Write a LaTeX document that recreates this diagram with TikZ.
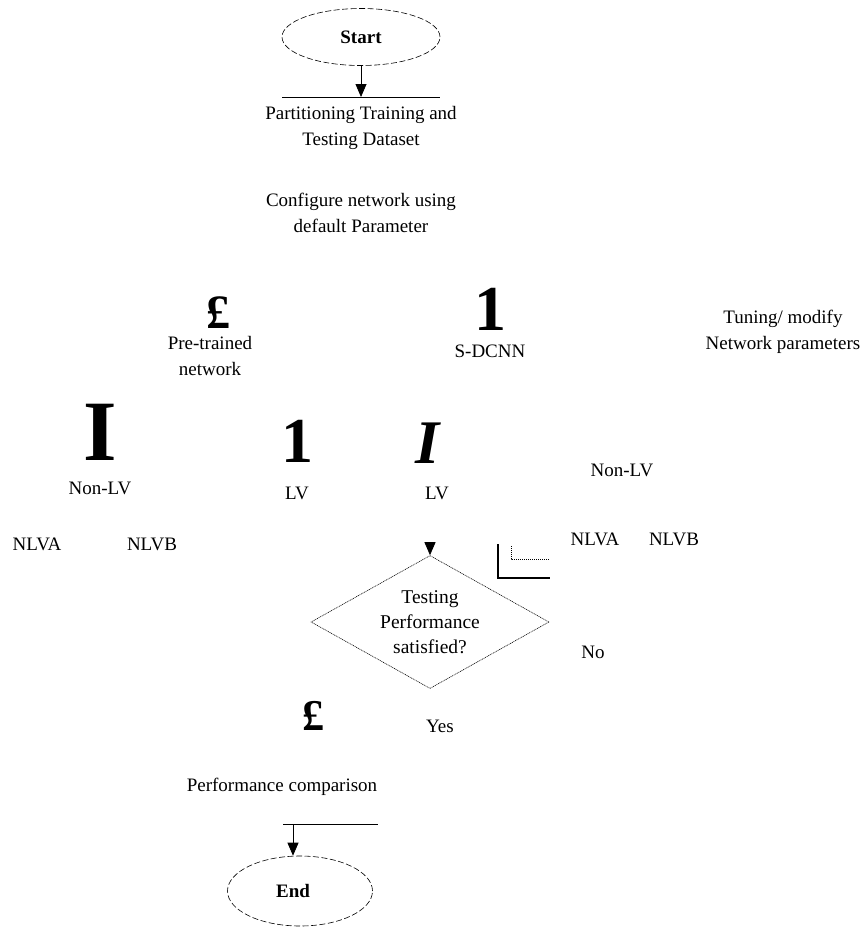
\documentclass[tikz,border=0pt]{standalone}
\usepackage{fontspec}
\setmainfont{Liberation Serif}
\usetikzlibrary{arrows.meta,shapes.geometric}
\tikzset{
  txt/.style={font=\fontsize{19}{26}\selectfont, align=center, inner sep=0pt},
  terminal/.style={ellipse, draw, dash pattern=on 6pt off 2.5pt, line width=0.6pt,
    font=\fontsize{19}{22}\selectfont\bfseries, inner sep=0pt},
  decision/.style={diamond, draw, dash pattern=on 1pt off 0.8pt, line width=0.6pt,
    inner sep=0pt},
  dectext/.style={font=\fontsize{19.5}{25}\selectfont, align=center, inner sep=0pt},
  bigsym/.style={inner sep=0pt, text depth=0pt, font=\bfseries},
  flow/.style={line width=0.8pt, -{Triangle[length=13pt,width=11pt]}},
  bar/.style={line width=0.8pt}
}
\begin{document}
\begin{tikzpicture}[x=1pt, y=-1pt]
\useasboundingbox (0,0) rectangle (866,927);

% start terminal and first step
\node[terminal, minimum width=158pt, minimum height=57pt] (start) at (361,37) {Start};
\coordinate (s1) at (361,97);
\draw[bar] (282,97) coordinate (b1l) -- (440,97) coordinate (b1r);
\draw[flow] (start.south) -- (s1);
\node[txt] (part) at (361,128) {Partitioning Training and\\Testing Dataset};
\node[txt] (conf) at (361,213) {Configure network using\\default Parameter};

% network choice
\node[bigsym, font=\fontsize{48}{48}\selectfont\bfseries] (pound1) at (218,313) {£};
\node[txt] (pre) at (210,356) {Pre-trained\\network};
\node[bigsym, font=\fontsize{64}{64}\selectfont\bfseries] (one1) at (490,309) {1};
\node[txt] (sdcnn) at (490,351) {S-DCNN};
\node[txt] (tune) at (783,332) {Tuning/ modify\\Network parameters};

% vessel classes
\node[bigsym, font=\fontsize{86}{86}\selectfont\bfseries] (bigI) at (100,432) {I};
\node[txt] (nonlv1) at (100,488) {Non-LV};
\node[bigsym, font=\fontsize{64}{64}\selectfont\bfseries] (one2) at (297,441) {1};
\node[txt] (lv1) at (297,493) {LV};
\node[bigsym, font=\fontsize{62}{62}\selectfont\bfseries\itshape] (itI) at (428,443) {I};
\node[txt] (lv2) at (437,493) {LV};
\node[txt] (nonlv2) at (622,470) {Non-LV};
\node[txt] (nlva1) at (37,544) {NLVA};
\node[txt] (nlvb1) at (152,544) {NLVB};
\node[txt] (nlva2) at (595,539) {NLVA};
\node[txt] (nlvb2) at (674,539) {NLVB};

% bracket beside the decision
\draw[line width=1.6pt] (498,544) -- (498,578) -- (550,578);
\draw[line width=0.6pt, dash pattern=on 1pt off 1pt] (511,546) -- (511,559) -- (550,559);

% decision
\node[decision, minimum width=238pt, minimum height=133pt] (dec) at (430,622) {};
\node[dectext] (dectxt) at (dec.center) {Testing\\Performance\\satisfied?};
\coordinate (d0) at (430,543);
\draw[flow] (d0) -- (dec.north);
\node[txt] (no) at (593,652) {No};
\node[txt] (yes) at (440,726) {Yes};
\node[bigsym, font=\fontsize{44}{44}\selectfont\bfseries] (pound2) at (313,716) {£};
\node[txt] (perf) at (282,787) {Performance comparison};

% end terminal
\draw[bar] (283,824) -- (378,824);
\coordinate (e0) at (293,824);
\node[terminal, minimum width=145pt, minimum height=70pt] (end) at (300,891) {\makebox[0pt]{\hspace*{-14pt}End}};
\draw[flow] (e0) -- (e0 |- end.north);
\end{tikzpicture}
\end{document}
